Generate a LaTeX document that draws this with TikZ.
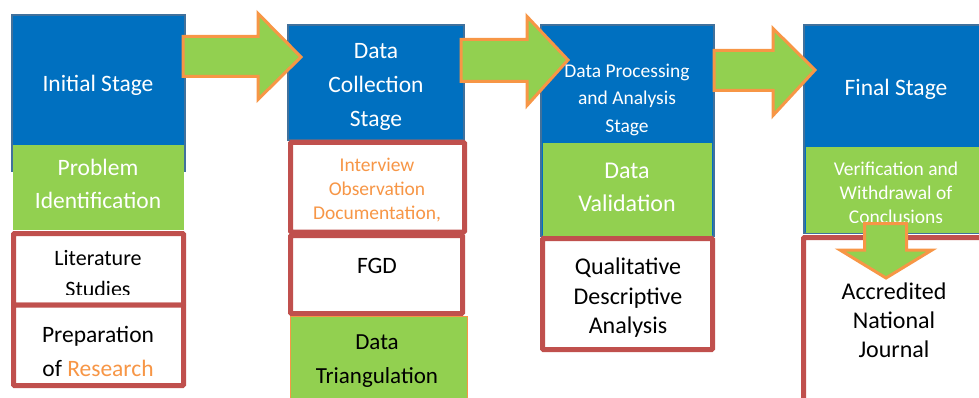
\documentclass[tikz,border=0pt]{standalone}
\usepackage{fontspec}
\setmainfont{Carlito}
\definecolor{stageblue}{HTML}{0070C0}
\definecolor{stageedge}{HTML}{41719C}
\definecolor{leafgreen}{HTML}{92D050}
\definecolor{accentorange}{HTML}{F79646}
\definecolor{framered}{HTML}{C0504D}
\tikzset{
  stagebox/.style={fill=stageblue, draw=stageedge, line width=2.5pt},
  greenbox/.style={fill=leafgreen},
  redframe/.style={fill=white, draw=framered, line width=5pt, rounded corners=1pt},
  blockarrow/.style={fill=leafgreen, draw=accentorange, line width=3pt, line join=miter},
  bigtext/.style={font=\fontsize{23.5}{33}\selectfont, align=center, inner sep=0pt},
  smalltext/.style={font=\fontsize{19.5}{24}\selectfont, align=center, inner sep=0pt},
}
\begin{document}
\begin{tikzpicture}[x=1pt, y=-1pt]
\useasboundingbox (0,0) rectangle (979,398);
\clip (0,0) rectangle (979,398);

% ---- column 1: initial stage
\path[stagebox] (12,15) rectangle (185,171);
\path[greenbox] (13,145) rectangle (184,230);
\path[redframe] (13.5,233.5) rectangle (183.5,305);
\path[redframe] (13.5,305) rectangle (183.5,385.5);

% ---- column 2: data collection
\path[stagebox] (288,25) rectangle (464,140);
\path[redframe] (290.5,142.5) rectangle (464.5,232);
\path[redframe] (290.5,235.5) rectangle (462.5,313.5);
\path[greenbox, draw=accentorange, line width=1pt] (290,316) rectangle (467,405);

% ---- column 3: data processing and analysis
\path[stagebox] (541,25) rectangle (714,236);
\path[greenbox] (543,143) rectangle (712,236);
\path[redframe] (542.5,238.5) rectangle (712.5,349.5);

% ---- column 4: final stage
\path[stagebox] (804,25) rectangle (995,233);
\path[greenbox] (806,147) rectangle (995,233);
\path[redframe] (803.5,237.5) rectangle (995,415);

% ---- block arrows between stages
\draw[blockarrow] (183,36.5) -- (258,36.5) -- (258,13.5) -- (301,57) -- (258,99.5) -- (258,76.5) -- (183,76.5) -- cycle;
\draw[blockarrow] (461,39.5) -- (527,39.5) -- (527,16.5) -- (568,60) -- (527,105.5) -- (527,81.5) -- (461,81.5) -- cycle;
\draw[blockarrow] (714,50.5) -- (773,50.5) -- (773,28.5) -- (815,70) -- (773,115.5) -- (773,90.5) -- (714,90.5) -- cycle;

% ---- texts, column 1
\node[bigtext, text=white] (t1a) at (98,85) {Initial Stage};
\node[bigtext, text=white] (t1b) at (98,184) {Problem\\Identification};
\begin{scope}
  \clip (16,236) rectangle (181,294.5);
  \node[bigtext, font=\fontsize{22}{31}\selectfont] (t1c) at (98,274) {Literature\\Studies};
\end{scope}
\node[bigtext, font=\fontsize{23.5}{34}\selectfont] (t1d) at (98,351) {Preparation\\of \textcolor{accentorange}{Research}};

% ---- texts, column 2
\node[bigtext, text=white, font=\fontsize{23.5}{34}\selectfont] (t2a) at (376,87) {Data\\Collection\\Stage};
\node[smalltext, text=accentorange] (t2b) at (377,190) {Interview\\Observation\\Documentation,};
\node[bigtext] (t2c) at (377,266) {FGD};
\node[bigtext, font=\fontsize{23}{34}\selectfont] (t2d) at (377,361) {Data\\Triangulation};

% ---- texts, column 3
\node[smalltext, text=white, font=\fontsize{19.5}{27.5}\selectfont] (t3a) at (627,99.5) {Data Processing\\and Analysis\\Stage};
\node[bigtext, text=white, font=\fontsize{24}{33}\selectfont] (t3b) at (627,187.5) {Data\\Validation};
\node[bigtext, font=\fontsize{24}{29.5}\selectfont] (t3c) at (628,298) {Qualitative\\Descriptive\\Analysis};

% ---- texts, column 4
\node[bigtext, text=white] (t4a) at (896,89) {Final Stage};
\begin{scope}
  \clip (807,148) rectangle (979,222);
  \node[smalltext, text=white] (t4b) at (896,193) {Verification and\\Withdrawal of\\Conclusions};
\end{scope}
\node[bigtext, font=\fontsize{24}{29}\selectfont] (t4c) at (894,320) {Accredited\\National\\Journal};

% ---- arrow from conclusions down to the journal
\draw[blockarrow] (864.5,223.5) -- (906.5,223.5) -- (906.5,250) -- (932,250) -- (886,278) -- (840,250) -- (864.5,250) -- cycle;
\end{tikzpicture}
\end{document}
